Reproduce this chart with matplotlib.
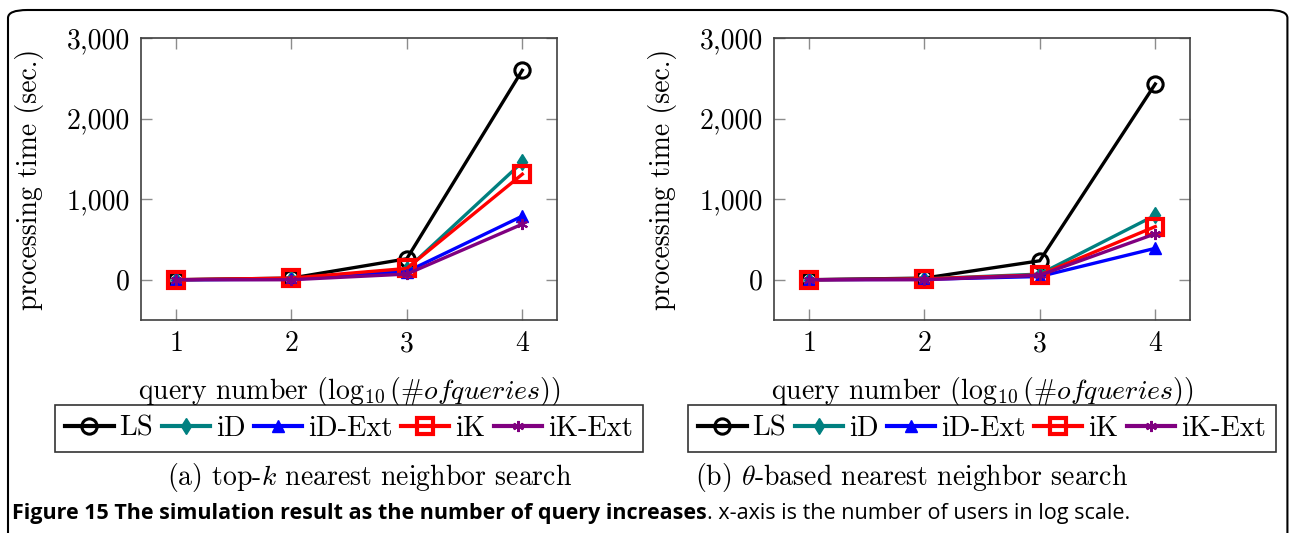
import numpy as np
from matplotlib import pyplot as plt
from matplotlib.patches import FancyBboxPatch
from matplotlib.ticker import FuncFormatter

plt.rcParams['font.family'] = 'cmr10'
plt.rcParams['mathtext.fontset'] = 'cm'
plt.rcParams['axes.formatter.use_mathtext'] = True

# data
queries = [1, 2, 3, 4]
series = ['LS', 'iD', 'iD-Ext', 'iK', 'iK-Ext']
topk = {
    'LS': [0, 20, 260, 2600],
    'iD': [0, 10, 130, 1460],
    'iD-Ext': [0, 5, 100, 790],
    'iK': [0, 20, 140, 1310],
    'iK-Ext': [0, 0, 70, 690],
}
theta = {
    'LS': [0, 20, 235, 2430],
    'iD': [0, 10, 70, 800],
    'iD-Ext': [0, 5, 40, 390],
    'iK': [0, 10, 60, 660],
    'iK-Ext': [0, 0, 55, 570],
}
yticks = [0, 1000, 2000, 3000]

styles = {
    'LS': dict(color='k', marker='o', mfc='none', ms=11, mew=2.2),
    'iD': dict(color=(0, 0.5, 0.5), marker='d', ms=8),
    'iD-Ext': dict(color=(0, 0, 1), marker='^', ms=8),
    'iK': dict(color=(1, 0, 0), marker='s', mfc='none', ms=11, mew=3),
    'iK-Ext': dict(color=(0.5, 0, 0.5), marker=(6, 2, 0), ms=8, mew=1.5),
}


def panel(ax, data):
    for s in series:
        ax.plot(queries, data[s], lw=2.4, label=s, **styles[s])
    ax.set_xlim(0.7, 4.3)
    ax.set_ylim(-500, 3000)
    ax.set_xticks(queries)
    ax.set_yticks(yticks)
    ax.yaxis.set_major_formatter(FuncFormatter(lambda v, p: '{:,.0f}'.format(v)))
    ax.tick_params(direction='in', length=8, width=1, color='0.55', labelsize=20,
                   top=True, right=True, pad=8)
    for sp in ax.spines.values():
        sp.set_linewidth(1.2)
        sp.set_color('0.25')
    ax.set_ylabel('processing time (sec.)', fontsize=20)
    ax.yaxis.set_label_coords(-0.233, 0.5)
    ax.set_xlabel(r'query number $(\log_{10}(\# of queries))$', fontsize=20)
    ax.xaxis.set_label_coords(0.5, -0.195)
    leg = ax.legend(loc='upper center', bbox_to_anchor=(0.5, -0.303), ncol=5, fontsize=20.5,
                    frameon=True, fancybox=False, edgecolor='k', handlelength=1.7,
                    handletextpad=0.2, columnspacing=0.3, borderpad=0.35, borderaxespad=0)
    leg.get_frame().set_linewidth(1.2)
    for ln in leg.get_lines():
        ln.set_linewidth(3)


fig = plt.figure(figsize=(12.92, 5.33), dpi=100)
ax1 = fig.add_axes([0.1091, 0.3996, 0.322, 0.529])
ax2 = fig.add_axes([0.599, 0.3996, 0.322, 0.529])
panel(ax1, topk)
panel(ax2, theta)

fig.text(370 / 1292, 0.105, r'(a) top-$k$ nearest neighbor search', fontsize=20,
         ha='center', va='center')
fig.text(912 / 1292, 0.105, r'(b) $\theta$-based nearest neighbor search', fontsize=20,
         ha='center', va='center')

t1 = fig.text(12 / 1292, 0.0375, 'Figure 15 The simulation result as the number of query increases',
              fontsize=15.5, fontweight='bold', family='Open Sans', va='center')
t2 = fig.text(0, 0, '. x-axis is the number of users in log scale.', fontsize=15.5,
              family='Open Sans', va='center', transform=None)
# place second part right after the bold title
fig.canvas.draw()
bb = t1.get_window_extent()
t2.set_position((bb.x1, (bb.y0 + bb.y1) / 2))

border = FancyBboxPatch((8 / 1292, -0.05), 1282 / 1292 - 0.002, (533 - 10) / 533 + 0.05,
                        boxstyle='round,pad=0,rounding_size=0.015', transform=fig.transFigure,
                        fill=False, ec='k', lw=1.5, clip_on=False)
fig.patches.append(border)

fig.savefig('out.png', dpi=100)
